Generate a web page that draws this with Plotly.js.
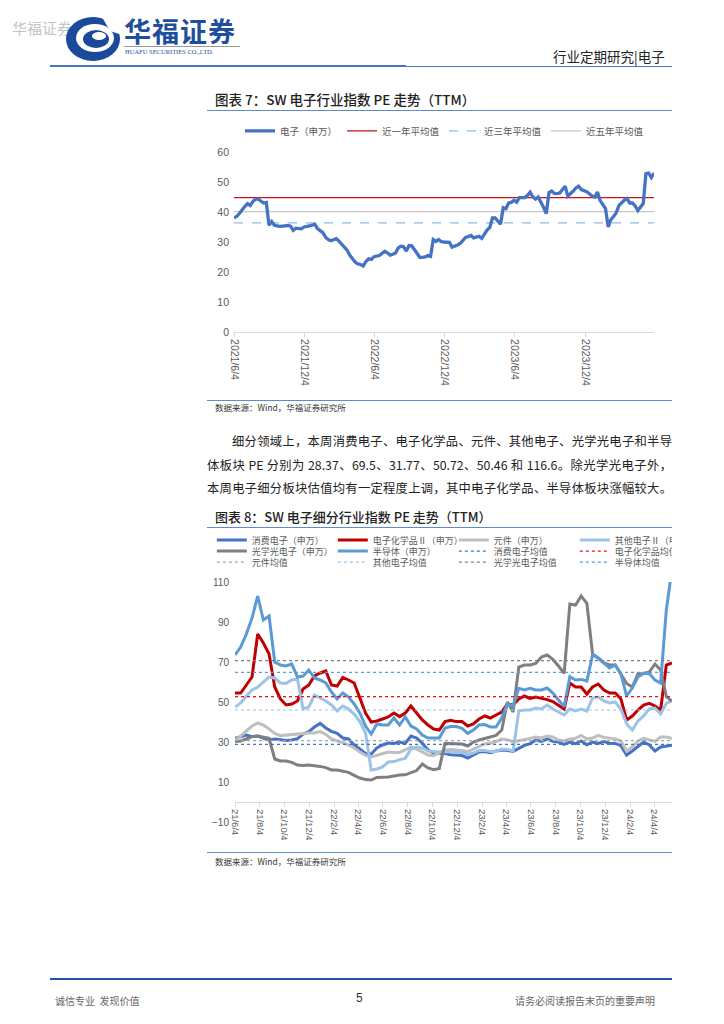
<!DOCTYPE html>
<html><head><meta charset="utf-8">
<script src="https://cdn.plot.ly/plotly-3.0.1.min.js"></script>
<style>
body{margin:0;width:724px;height:1024px;background:#fff;position:relative;overflow:hidden;font-family:'Noto Sans CJK SC','Liberation Sans',sans-serif;color:#222;}
.abs{position:absolute;}
.nw{white-space:nowrap;}
.just{text-align:justify;text-align-last:justify;white-space:nowrap;}
</style></head><body>

<!-- header -->
<div class="abs nw" style="left:12px;top:17px;font-size:15px;color:#c4c4c4;">华福证券</div>
<svg class="abs" style="left:64px;top:15px;" width="58" height="48" viewBox="0 0 58 48">
  <ellipse cx="29" cy="24" rx="27" ry="22" fill="#1B4A9A"/>
  <ellipse cx="31" cy="23" rx="19" ry="14" fill="#fff"/>
  <ellipse cx="32" cy="24" rx="13" ry="9" fill="#1B4A9A"/>
  <ellipse cx="35" cy="21" rx="7" ry="4" fill="#fff"/>
  <path d="M38,2 L58,0 L58,20 L46,16 Z" fill="#fff"/>
</svg>
<div class="abs nw" style="left:124px;top:11px;font-size:27px;font-weight:700;color:#1F4E9E;letter-spacing:1px;">华福证券</div>
<div class="abs" style="left:124px;top:46px;width:116px;height:1px;background:#9a9a9a;"></div>
<div class="abs nw" style="left:125px;top:48px;font-size:6.5px;line-height:8px;color:#1F4E9E;font-family:'Liberation Serif',serif;">HUAFU SECURITIES CO.,LTD.</div>
<div class="abs nw" style="left:553px;top:46px;font-size:13.5px;color:#222;">行业定期研究|电子</div>
<div class="abs" style="left:50px;top:65px;width:356px;height:2px;background:#4A76C0;"></div>
<div class="abs" style="left:406px;top:66px;width:266px;height:1px;background:#4A76C0;"></div>

<!-- chart 1 -->
<div class="abs nw" style="left:215px;top:89px;font-size:13.5px;font-weight:500;color:#222;">图表 7：SW 电子行业指数 PE 走势（TTM）</div>
<div class="abs" style="left:207px;top:110px;width:465px;height:1px;background:#5B8BD0;"></div>
<div id="c1" class="abs" style="left:180px;top:115px;width:500px;height:285px;"></div>
<div class="abs" style="left:207px;top:400px;width:465px;height:1px;background:#5B8BD0;"></div>
<div class="abs nw" style="left:215px;top:401px;font-size:8.5px;color:#333;">数据来源：Wind，华福证券研究所</div>

<!-- paragraph -->
<div class="abs just" style="left:232px;top:430px;width:440px;font-size:12.3px;line-height:22px;">细分领域上，本周消费电子、电子化学品、元件、其他电子、光学光电子和半导</div>
<div class="abs just" style="left:207px;top:454px;width:465px;font-size:12.3px;line-height:22px;">体板块 PE 分别为 28.37、69.5、31.77、50.72、50.46 和 116.6。除光学光电子外，</div>
<div class="abs just" style="left:207px;top:477px;width:465px;font-size:12.3px;line-height:22px;">本周电子细分板块估值均有一定程度上调，其中电子化学品、半导体板块涨幅较大。</div>

<!-- chart 2 -->
<div class="abs nw" style="left:215px;top:507px;font-size:13px;font-weight:500;color:#222;">图表 8：SW 电子细分行业指数 PE 走势（TTM）</div>
<div class="abs" style="left:207px;top:527px;width:465px;height:1px;background:#5B8BD0;"></div>
<div class="abs" style="left:180px;top:528px;width:492px;height:324px;overflow:hidden;">
  <div id="c2" style="position:absolute;left:0;top:0;width:600px;height:324px;"></div>
</div>
<div class="abs" style="left:207px;top:852px;width:465px;height:1px;background:#5B8BD0;"></div>
<div class="abs nw" style="left:215px;top:855px;font-size:8.5px;color:#333;">数据来源：Wind，华福证券研究所</div>

<!-- footer -->
<div class="abs" style="left:50px;top:978px;width:622px;height:2px;background:#2450A0;"></div>
<div class="abs nw" style="left:55px;top:993px;font-size:10px;color:#666;">诚信专业&nbsp;&nbsp;发现价值</div>
<div class="abs nw" style="left:356px;top:991px;font-size:12px;color:#333;font-family:'Liberation Sans',sans-serif;">5</div>
<div class="abs nw" style="left:515px;top:993px;font-size:10px;color:#666;">请务必阅读报告末页的重要声明</div>

<script>
const FONT = "'Liberation Sans','Noto Sans CJK SC',sans-serif";

// ---------- Chart 1 data ----------
const pe1Start = '2021-06-04';
const pe1Values = [
38.1,38.5,39.5,40.8,41.8,42.8,42.2,43.5,44.3,44.3,
43.5,43.0,43.2,35.6,36.8,35.6,35.4,35.2,35.3,35.4,
35.5,35.3,33.9,34.6,34.5,34.4,35.0,35.3,35.4,35.6,
35.9,34.5,33.8,33.1,31.6,30.8,30.4,30.8,31.1,30.3,
29.2,28.4,27.3,25.6,24.3,23.3,22.7,22.5,22.0,23.5,
24.4,24.2,25.1,25.2,25.5,26.2,26.9,26.4,25.6,25.9,
26.3,28.0,28.6,28.4,27.0,28.8,28.7,27.5,26.1,24.9,
24.9,25.0,25.5,25.2,30.8,30.2,30.8,30.1,30.0,30.0,
29.9,28.3,28.6,29.0,29.5,30.5,31.5,31.8,32.2,31.4,
31.6,31.9,31.2,32.5,34.0,34.8,38.0,38.0,37.0,35.9,
41.4,41.1,43.0,43.2,43.9,43.3,44.8,44.8,44.8,45.5,
46.6,45.0,44.3,45.0,43.5,41.5,39.5,46.5,47.0,46.2,
46.1,46.3,47.5,48.6,45.3,46.0,47.0,48.0,48.6,47.5,
47.2,46.8,46.1,45.3,45.0,46.7,43.8,42.2,41.1,35.0,
37.5,38.5,39.8,42.2,43.3,44.0,44.5,43.0,43.0,42.0,
40.5,41.8,42.8,52.8,53.0,51.5,53.0];
const avg1y = 44.8, avg3y = 36.4, avg5y = 40.1;
const pe1Names = ['电子（申万）','近一年平均值','近三年平均值','近五年平均值'];
const pe1TickVals = ['2021-06-04','2021-12-04','2022-06-04','2022-12-04','2023-06-04','2023-12-04'];
const pe1TickText = ['2021/6/4','2021/12/4','2022/6/4','2022/12/4','2023/6/4','2023/12/4'];

// ---------- Chart 2 data ----------
const pe2Start = '2021-06-04';
const pe2Names = ['消费电子（申万）','电子化学品Ⅱ（申万）','元件（申万）','其他电子Ⅱ（申万）','光学光电子（申万）','半导体（申万）'];
const consumerPE = [
31.8,32.7,33.5,32.7,33,32,31,31.5,31,30.7,
31,31.7,34,35.2,37.5,39.3,37,35.3,34.3,32,
31.5,28.5,26.5,24.3,24,27,28.5,29.5,29.3,30,
29.3,33,32,29.5,26,24.5,24.3,24.2,23.6,
23.4,23.2,22,23.3,25,25.2,24.7,25.5,26,25.8,25.3,26.8,28.3,29.2,31,30.3,31.5,30.3,30,28.8,30,29.2,30.5,28.6,30,29.3,30.2,29.4,29.3,28.2,23.5,25.5,28,30,28.5,25.5,27.5,28,28.37];
const chemPE = [
54.5,54.5,58.5,62.5,84,79.5,74,57.5,51.5,48.5,
49,50.5,56.5,58.5,63,64.5,65.5,58.5,58,62.3,
61,59.5,52,44.5,40,40.5,41.5,42.5,44.5,42.7,
44.5,48,44.5,41,38.5,36.5,36,40.2,40.9,
40.2,40.2,38,39,41.5,43,42,43.5,45,49,48.5,51.5,53,51.8,52.5,51.8,51.2,50.2,48.5,46.5,59.5,57.5,57.5,54,57.5,59,56,54.5,54.5,51.5,41,43,46,48.5,49.3,48,46,68.5,69.5];
const componentPE = [
31,33,35.5,38,39.5,38.5,36.5,34.3,33.2,33.5,
33.5,33.8,34.3,34.5,34.5,35.2,33.8,31.5,30.5,29.7,
28.5,27,25,23.3,22.5,23.3,24.3,25,24.8,24.8,
26,27.5,26.5,25,23.5,23.2,24.5,26,26.3,
26.1,25.8,25.2,26.5,28,29,29.4,30.2,31.5,31.2,30,30.5,31.3,31.8,32.5,32,33,32.5,31,30.5,31.5,31.8,33.3,31.5,32,33.3,32.3,31.8,31.5,30.5,25.5,27.5,30.5,31.8,31.2,30.3,32.5,32.5,31.77];
const otherPE = [
47.5,49.5,53,56,57.5,60,62.5,62,59.5,59.3,
61,61.5,46.5,47.5,53.5,52,50.5,48.5,45.5,48,
46.5,44,40.2,34.5,16,16.5,17.5,20,20.2,21.2,
21.8,26.5,27.5,27,25.5,25.2,25.2,25.2,25.2,
25,24.8,23.7,24.5,25.8,25.8,25.2,25.2,26.5,26.3,25.5,45.5,46,46,47,46.5,48.5,46.5,45.2,43.5,46.5,45.5,46.5,45.5,52,52.5,50.5,49.5,50,46.5,39,36,40.5,43,46.5,47,44,49.3,50.72];
const optoPE = [
30.2,30.5,31.5,32.7,33,32.5,31.8,21.5,20.5,20.5,
19.8,18.5,18.3,18.5,18.2,17.8,17.2,16,16,15.5,
14.8,13.3,12,11.2,11,12.3,12.3,12.5,13,13.5,
13.6,14.5,15.7,19,17,16.2,16.8,29.3,29.3,
29.3,29,28,30,31,31.8,32.5,33.3,36,50,45,67.5,68.5,68.5,69.3,72.5,73.5,71.3,68,64.3,99,98.5,103,99.3,74,72,69.5,68.5,68.5,64,59.3,57.5,64,64.3,65,69,66,52.7,50.46];
const semiPE = [
73.5,77.5,84,92,103,91,93,70,68.5,68,
69,62.5,63,66,62,61,59.5,55,51.5,54.5,
52.5,49,44.5,38,34,39,38.5,38.5,42,38.5,
42.5,38,36.5,33.5,32,32,32,37,37.7,
37.7,36.8,34.3,36,38.5,38.7,37.5,37.5,42,49,48,56.8,56,56.8,56,56,57,54.5,51,47.7,62.7,61,61.3,60.5,73.5,72,69.5,67,68.5,64,53,57,62.5,64.3,64.3,61,59.5,96,116.6];
const meanNames = ['消费电子均值','电子化学品均值','元件均值','其他电子均值','光学光电子均值','半导体均值'];
const meanValues = [28.8, 52.7, 30.7, 46.0, 70.7, 64.8];
const pe2TickVals = ['2021-06-04','2021-08-04','2021-10-04','2021-12-04','2022-02-04','2022-04-04','2022-06-04','2022-08-04','2022-10-04','2022-12-04','2023-02-04','2023-04-04','2023-06-04','2023-08-04','2023-10-04','2023-12-04','2024-02-04','2024-04-04'];
const pe2TickText = ['21/6/4','21/8/4','21/10/4','21/12/4','22/2/4','22/4/4','22/6/4','22/8/4','22/10/4','22/12/4','23/2/4','23/4/4','23/6/4','23/8/4','23/10/4','23/12/4','24/2/4','24/4/4'];

function makeDates(start, count, stepDays){
  const out=[]; const t0=Date.parse(start+'T00:00:00Z');
  for(let i=0;i<count;i++){out.push(new Date(t0+i*stepDays*86400000).toISOString().slice(0,10));}
  return out;
}

// ---------- Chart 1 ----------
const d1 = makeDates(pe1Start, pe1Values.length, 7);
const x1 = [d1[0], d1[d1.length-1]];
const c1traces = [
  {x:x1, y:[avg5y,avg5y], name:pe1Names[3], mode:'lines', line:{color:'#C8C8C8',width:1.3}, legendrank:4},
  {x:x1, y:[avg3y,avg3y], name:pe1Names[2], mode:'lines', line:{color:'#8DBAE8',width:1.3,dash:'dash'}, legendrank:3},
  {x:x1, y:[avg1y,avg1y], name:pe1Names[1], mode:'lines', line:{color:'#C0141B',width:1.2}, legendrank:2},
  {x:d1, y:pe1Values, name:pe1Names[0], mode:'lines', line:{color:'#4472C4',width:3.3}, legendrank:1}
];
const axFont = {family:FONT, size:10.5, color:'#595959'};
Plotly.newPlot('c1', c1traces, {
  width:500, height:285, margin:{l:54,r:26,t:37,b:68,autoexpand:false},
  paper_bgcolor:'rgba(0,0,0,0)', plot_bgcolor:'rgba(0,0,0,0)',
  showlegend:true,
  legend:{orientation:'h', x:0.5, xanchor:'center', y:1.117, yanchor:'middle',
    font:{family:FONT,size:9.5,color:'#595959'}, entrywidth:57, entrywidthmode:'pixels', itemwidth:30, bgcolor:'rgba(0,0,0,0)'},
  xaxis:{type:'date', range:x1, tickvals:pe1TickVals, ticktext:pe1TickText, tickangle:90,
    showgrid:false, zeroline:false, showline:true, linecolor:'#D9D9D9', linewidth:1,
    ticks:'outside', ticklen:4, tickcolor:'#D9D9D9', tickfont:axFont},
  yaxis:{range:[0,60], dtick:10, tick0:0, showgrid:false, zeroline:false, showline:false, ticks:'', tickfont:axFont, ticklabelstandoff:4}
}, {staticPlot:true, displayModeBar:false});

// ---------- Chart 2 ----------
const d2 = makeDates(pe2Start, semiPE.length, 14);
const x2 = [d2[0], d2[d2.length-1]];
const seriesVals = [consumerPE, chemPE, componentPE, otherPE, optoPE, semiPE];
const seriesColors = ['#4472C4','#C00000','#BFBFBF','#9DC3E6','#7F7F7F','#5B9BD5'];
const meanColors = ['#4472C4','#E0141E','#A6A6A6','#9DC3E6','#7F7F7F','#5B9BD5'];
const legendOf = ['legend','legend','legend','legend','legend2','legend2','legend2','legend2','legend3','legend3','legend3','legend3'];
const c2traces = [];
seriesVals.forEach((v,i)=>{
  c2traces.push({x:d2, y:v, name:pe2Names[i], mode:'lines', line:{color:seriesColors[i], width:3}, legend:legendOf[i]});
});
meanValues.forEach((m,i)=>{
  c2traces.push({x:x2, y:[m,m], name:meanNames[i], mode:'lines', line:{color:meanColors[i], width:1.2, dash:'dot'}, legend:legendOf[6+i]});
});
const lg = (y)=>({orientation:'h', x:-0.053, xanchor:'left', y:y, yanchor:'middle',
  font:{family:FONT,size:9,color:'#595959'}, entrywidth:76, entrywidthmode:'pixels', itemwidth:30, bgcolor:'rgba(0,0,0,0)'});
const axFont2 = {family:FONT, size:9.5, color:'#595959'};
Plotly.newPlot('c2', c2traces, {
  width:600, height:324, margin:{l:55,r:108,t:54,b:30,autoexpand:false},
  paper_bgcolor:'rgba(0,0,0,0)', plot_bgcolor:'rgba(0,0,0,0)',
  showlegend:true,
  legend:lg(1.175), legend2:lg(1.129), legend3:lg(1.083),
  xaxis:{type:'date', range:x2, tickvals:pe2TickVals, ticktext:pe2TickText, tickangle:90,
    anchor:'free', position:10/120,
    showgrid:false, zeroline:false, showline:true, linecolor:'#D9D9D9', linewidth:1,
    ticks:'outside', ticklen:4, tickcolor:'#D9D9D9', tickfont:axFont2},
  yaxis:{range:[-10,110], tickvals:[-10,10,30,50,70,90,110], showgrid:false, zeroline:false, showline:false, ticks:'', tickfont:{family:FONT,size:10,color:'#595959'}, ticklabelstandoff:5}
}, {staticPlot:true, displayModeBar:false});
</script>
</body></html>
